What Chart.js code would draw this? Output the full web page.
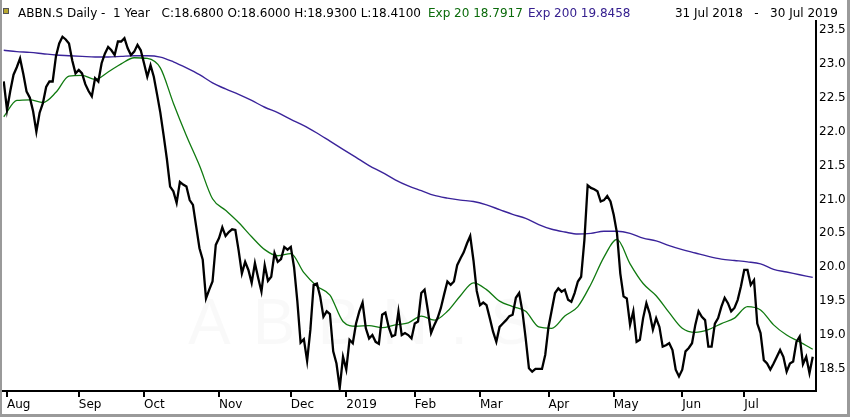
<!DOCTYPE html>
<html>
<head>
<meta charset="utf-8">
<script src="https://cdn.jsdelivr.net/npm/chart.js"></script>
<style>
  html, body { margin: 0; padding: 0; background: #fff; }
  #chart { display: block; }
</style>
</head>
<body>
<canvas id="chart" width="850" height="417"></canvas>
<script>
// daily closes, 31 Jul 2018 .. 30 Jul 2019 (trading day index 0..248)
const closeValues = [
  22.74, 22.32, 22.60, 22.84, 22.95, 23.08, 22.85, 22.59, 22.50, 22.30,
  22.00, 22.28, 22.42, 22.66, 22.74, 22.74, 23.11, 23.30, 23.40, 23.36,
  23.30, 23.05, 22.86, 22.91, 22.86, 22.70, 22.60, 22.52, 22.79, 22.74,
  23.01, 23.15, 23.25, 23.20, 23.13, 23.33, 23.33, 23.38, 23.23, 23.13,
  23.18, 23.28, 23.20, 23.01, 22.81, 22.98, 22.81, 22.55, 22.28, 21.95,
  21.60, 21.19, 21.12, 20.95, 21.26, 21.22, 21.19, 20.99, 20.92, 20.60,
  20.28, 20.11, 19.54, 19.67, 19.79, 20.33, 20.43, 20.59, 20.46, 20.52,
  20.56, 20.55, 20.25, 19.91, 20.08, 19.96, 19.77, 20.06, 19.84, 19.64,
  20.03, 19.80, 19.86, 20.21, 20.08, 20.12, 20.30, 20.26, 20.30, 20.00,
  19.50, 18.89, 18.94, 18.62, 19.08, 19.74, 19.76, 19.57, 19.27, 19.35,
  19.31, 18.76, 18.58, 18.22, 18.68, 18.49, 18.93, 18.88, 19.17, 19.35,
  19.48, 19.10, 18.95, 19.00, 18.90, 18.87, 19.30, 19.33, 19.12, 18.98,
  19.00, 19.35, 19.00, 19.03, 19.00, 18.95, 19.17, 19.20, 19.62, 19.67,
  19.37, 19.03, 19.15, 19.25, 19.40, 19.60, 19.79, 19.74, 19.79, 20.03,
  20.13, 20.22, 20.35, 20.46, 20.10, 19.65, 19.44, 19.48, 19.44, 19.25,
  19.05, 18.90, 19.12, 19.17, 19.22, 19.28, 19.30, 19.55, 19.62, 19.35,
  18.95, 18.51, 18.46, 18.50, 18.50, 18.50, 18.71, 19.12, 19.37, 19.62,
  19.69, 19.64, 19.67, 19.52, 19.49, 19.62, 19.79, 19.86, 20.40, 21.21,
  21.17, 21.15, 21.12, 20.97, 20.99, 21.05, 20.97, 20.77, 20.50, 19.91,
  19.57, 19.54, 19.15, 19.35, 18.90, 18.93, 19.25, 19.47, 19.32, 19.08,
  19.25, 19.12, 18.83, 18.85, 18.88, 18.78, 18.49, 18.39, 18.49, 18.76,
  18.81, 18.88, 19.15, 19.35, 19.27, 19.22, 18.83, 18.83, 19.17, 19.25,
  19.42, 19.55, 19.47, 19.35, 19.40, 19.52, 19.72, 19.96, 19.96, 19.74,
  19.81, 19.17, 19.03, 18.63, 18.58, 18.49, 18.58, 18.68, 18.78, 18.68,
  18.46, 18.58, 18.61, 18.90, 18.98, 18.57, 18.68, 18.44, 18.68
];

// moving averages read every 4th trading day
const emaStep = 4;
const ema20Values = [
  22.22, 22.46, 22.47, 22.43, 22.58, 22.82, 22.83, 22.77, 22.88, 23.00,
  23.09, 23.08, 22.94, 22.42, 21.94, 21.50, 21.01, 20.84, 20.66, 20.45,
  20.26, 20.17, 20.20, 19.92, 19.72, 19.59, 19.20, 19.13, 19.14, 19.11,
  19.15, 19.18, 19.28, 19.22, 19.35, 19.58, 19.77, 19.67, 19.50, 19.42,
  19.35, 19.12, 19.10, 19.28, 19.42, 19.75, 20.15, 20.41, 20.05, 19.76,
  19.58, 19.33, 19.10, 19.04, 19.08, 19.17, 19.25, 19.42, 19.37, 19.15,
  19.00, 18.90, 18.79
];
const ema200Values = [
  23.20, 23.18, 23.17, 23.15, 23.13, 23.12, 23.11, 23.10, 23.10, 23.11,
  23.12, 23.12, 23.10, 23.03, 22.94, 22.84, 22.72, 22.63, 22.55, 22.46,
  22.36, 22.28, 22.18, 22.09, 21.98, 21.86, 21.74, 21.62, 21.50, 21.40,
  21.29, 21.20, 21.13, 21.06, 21.02, 20.99, 20.97, 20.92, 20.85, 20.78,
  20.72, 20.63, 20.56, 20.52, 20.49, 20.50, 20.53, 20.53, 20.50, 20.43,
  20.39, 20.32, 20.26, 20.21, 20.16, 20.12, 20.10, 20.08, 20.05, 19.97,
  19.93, 19.89, 19.85
];

const monthTickIdx = [1, 23, 43, 66, 88, 105, 126, 146, 167, 187, 208, 227];
const monthLabels = ['Aug', 'Sep', 'Oct', 'Nov', 'Dec', '2019', 'Feb', 'Mar', 'Apr', 'May', 'Jun', 'Jul'];
const priceTicks = [18.5, 19.0, 19.5, 20.0, 20.5, 21.0, 21.5, 22.0, 22.5, 23.0, 23.5];

const FONT = '"DejaVu Sans", Verdana, sans-serif';

const closeData = closeValues.map((v, i) => ({ x: i, y: v }));
const ema20Data = ema20Values.map((v, i) => ({ x: i * emaStep, y: v }));
const ema200Data = ema200Values.map((v, i) => ({ x: i * emaStep, y: v }));

// header text, frame and faint watermark
const decor = {
    id: 'decor',
    beforeDatasetsDraw(chart) {
        const ctx = chart.ctx;
        ctx.save();
        ctx.font = '64px "Liberation Sans", sans-serif';
        ctx.letterSpacing = '22px';
        ctx.fillStyle = 'rgba(0,0,0,0.022)';
        ctx.textBaseline = 'alphabetic';
        ctx.fillText('ABBN.S', 188, 344);
        ctx.restore();
    },
    afterDraw(chart) {
        const ctx = chart.ctx;
        ctx.save();
        ctx.font = '12px ' + FONT;
        ctx.textBaseline = 'alphabetic';

        ctx.fillStyle = '#b8a830';
        ctx.fillRect(4, 9, 4, 4);
        ctx.strokeStyle = '#555';
        ctx.lineWidth = 1;
        ctx.strokeRect(3.5, 8.5, 5, 5);

        ctx.fillStyle = '#000';
        ctx.textAlign = 'left';
        ctx.fillText('ABBN.S Daily -  1 Year', 18, 17);
        ctx.textAlign = 'right';
        ctx.fillText('C:18.6800 O:18.6000 H:18.9300 L:18.4100', 421, 17);
        ctx.textAlign = 'left';
        ctx.fillStyle = '#0b6b0b';
        ctx.fillText('Exp 20 18.7917', 428, 17);
        ctx.fillStyle = '#36208f';
        ctx.fillText('Exp 200 19.8458', 528, 17);
        ctx.fillStyle = '#000';
        ctx.textAlign = 'right';
        ctx.fillText('31 Jul 2018   -   30 Jul 2019', 838, 17);

        ctx.fillStyle = '#9a9a9a';
        ctx.fillRect(0, 0, 2, 417);
        ctx.fillRect(847, 0, 3, 417);
        ctx.fillRect(0, 414, 850, 3);
        ctx.restore();
    }
};

new Chart(document.getElementById('chart'), {
    type: 'line',
    data: {
        datasets: [
            {
                label: 'Close',
                data: closeData,
                borderColor: '#000000',
                borderWidth: 2.3,
                pointRadius: 0,
                tension: 0,
                order: 0
            },
            {
                label: 'Exp 20',
                data: ema20Data,
                borderColor: '#107a10',
                borderWidth: 1.3,
                pointRadius: 0,
                cubicInterpolationMode: 'monotone',
                order: 1
            },
            {
                label: 'Exp 200',
                data: ema200Data,
                borderColor: '#3a239a',
                borderWidth: 1.4,
                pointRadius: 0,
                cubicInterpolationMode: 'monotone',
                order: 2
            }
        ]
    },
    options: {
        responsive: false,
        animation: false,
        parsing: false,
        layout: { padding: { left: 3, top: 21, right: 0, bottom: 0 } },
        plugins: {
            legend: { display: false },
            tooltip: { enabled: false }
        },
        scales: {
            x: {
                type: 'linear',
                min: -0.23,
                max: 249.0,
                afterBuildTicks(scale) {
                    scale.ticks = monthTickIdx.map(v => ({ value: v }));
                },
                afterFit(scale) { scale.height = 26; },
                ticks: {
                    autoSkip: false,
                    maxRotation: 0,
                    align: 'start',
                    padding: 1,
                    color: '#000',
                    font: { family: FONT, size: 12 },
                    callback: (value, index) => monthLabels[index]
                },
                grid: {
                    drawOnChartArea: false,
                    drawTicks: true,
                    tickLength: 6,
                    color: '#000',
                    lineWidth: 2
                },
                border: { display: true, color: '#000', width: 2 }
            },
            y: {
                position: 'right',
                min: 18.175,
                max: 23.632,
                afterBuildTicks(scale) {
                    scale.ticks = priceTicks.map(v => ({ value: v }));
                },
                afterFit(scale) { scale.width = 34; },
                ticks: {
                    padding: 3,
                    color: '#000',
                    font: { family: FONT, size: 12 },
                    callback: value => value.toFixed(1)
                },
                grid: {
                    drawOnChartArea: false,
                    drawTicks: false
                },
                border: { display: true, color: '#000', width: 2 }
            }
        }
    },
    plugins: [decor]
});
</script>
</body>
</html>
